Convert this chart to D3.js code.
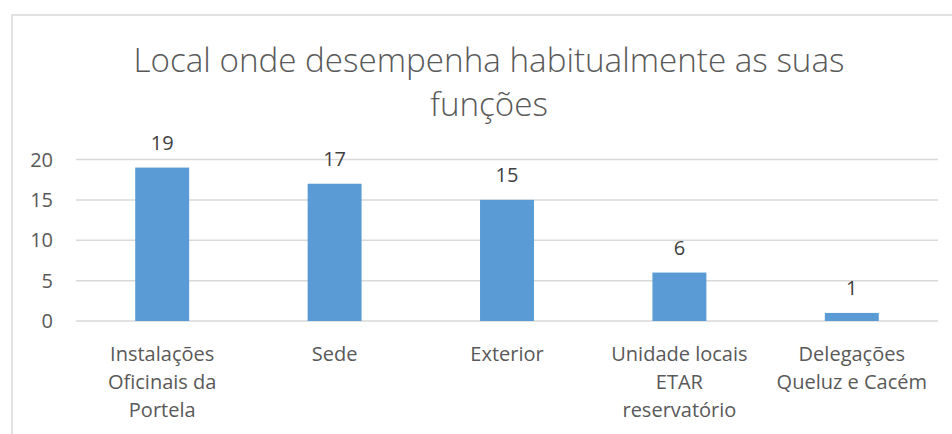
<!DOCTYPE html>
<html>
<head>
<meta charset="utf-8">
<script src="https://cdn.jsdelivr.net/npm/d3@7"></script>
<style>
  html, body { margin: 0; padding: 0; background: #fff; }
  svg { display: block; font-family: "Open Sans", sans-serif; }
</style>
</head>
<body>
<div id="chart"></div>
<script>
const titleLines = ["Local onde desempenha habitualmente as suas", "funções"]
const categories = [
  ["Instalações", "Oficinais da", "Portela"],
  ["Sede"],
  ["Exterior"],
  ["Unidade locais", "ETAR", "reservatório"],
  ["Delegações", "Queluz e Cacém"]
]
const values = [19, 17, 15, 6, 1]
const yTicks = [0, 5, 10, 15, 20]

const width = 952, height = 434
const margin = {top: 159.5, right: 14, bottom: 113, left: 76}

const svg = d3.select("#chart")
  .append("svg")
  .attr("width", width)
  .attr("height", height)

// chart area border
svg.append("rect")
  .attr("x", 12).attr("y", 15)
  .attr("width", width).attr("height", height)
  .attr("fill", "none")
  .attr("stroke", "#d9d9d9")
  .attr("stroke-width", 1.5)

const x = d3.scaleBand()
  .domain(d3.range(values.length))
  .range([margin.left, width - margin.right])

const y = d3.scaleLinear()
  .domain([0, 20])
  .range([height - margin.bottom, margin.top])

// gridlines
svg.append("g")
  .selectAll("line")
  .data(yTicks)
  .join("line")
  .attr("x1", margin.left)
  .attr("x2", width - margin.right)
  .attr("y1", d => y(d))
  .attr("y2", d => y(d))
  .attr("stroke", "#d9d9d9")
  .attr("stroke-width", 1.5)

// y axis labels
svg.append("g")
  .selectAll("text")
  .data(yTicks)
  .join("text")
  .attr("x", 53)
  .attr("y", d => y(d))
  .attr("dy", "0.35em")
  .attr("text-anchor", "end")
  .attr("fill", "#595959")
  .attr("font-size", 20)
  .text(d => d)

const barW = x.bandwidth() * 0.313

svg.append("g")
  .selectAll("rect")
  .data(values)
  .join("rect")
  .attr("x", (d, i) => x(i) + x.bandwidth() / 2 - barW / 2)
  .attr("y", d => y(d))
  .attr("width", barW)
  .attr("height", d => y(0) - y(d))
  .attr("fill", "#5b9bd5")

// value labels
svg.append("g")
  .selectAll("text")
  .data(values)
  .join("text")
  .attr("x", (d, i) => x(i) + x.bandwidth() / 2)
  .attr("y", d => y(d) - 18)
  .attr("text-anchor", "middle")
  .attr("fill", "#404040")
  .attr("font-size", 20)
  .text(d => d)

// category labels
const cat = svg.append("g")
  .selectAll("text")
  .data(categories)
  .join("text")
  .attr("text-anchor", "middle")
  .attr("fill", "#595959")
  .attr("font-size", 20)

cat.selectAll("tspan")
  .data((d, i) => d.map(t => ({t, i})))
  .join("tspan")
  .attr("x", d => x(d.i) + x.bandwidth() / 2)
  .attr("y", (d, j) => 361 + j * 28)
  .text(d => d.t)

// title
svg.append("g")
  .selectAll("text")
  .data(titleLines)
  .join("text")
  .attr("x", 489)
  .attr("y", (d, i) => 72 + i * 44)
  .attr("text-anchor", "middle")
  .attr("fill", "#595959")
  .attr("font-size", 33.2)
  .attr("font-weight", 300)
  .text(d => d)
</script>
</body>
</html>
